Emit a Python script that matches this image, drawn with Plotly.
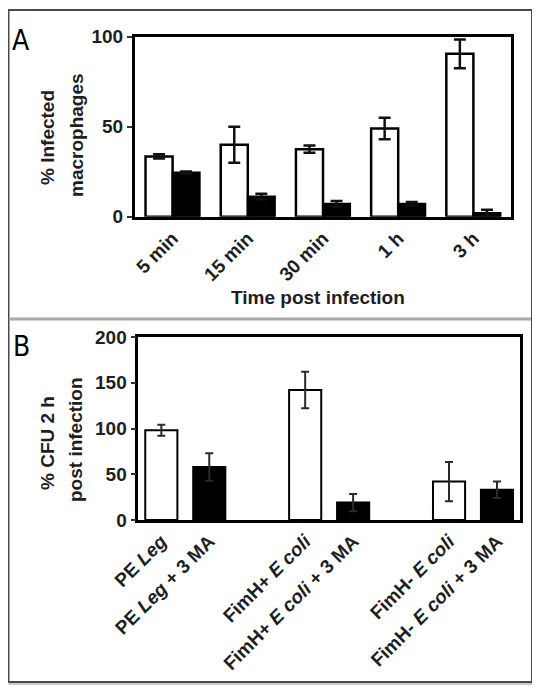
import plotly.graph_objects as go

# ---------- Panel A data ----------
time_points = ["5 min", "15 min", "30 min", "1 h", "3 h"]
infected_control = [33.5, 40, 37.5, 49, 90.5]
infected_control_err = [1.2, 10, 2, 6, 8]
infected_3ma = [24.5, 11.2, 7.2, 7.2, 2]
infected_3ma_err = [0.6, 1.5, 1.5, 1, 1.8]
a_yticks = [0, 50, 100]

# ---------- Panel B data ----------
b_labels = ["PE <i>Leg</i>", "PE <i>Leg</i> + 3 MA",
            "FimH+ <i>E coli</i>", "FimH+ <i>E coli</i> + 3 MA",
            "FimH- <i>E coli</i>", "FimH- <i>E coli</i> + 3 MA"]
cfu_values = [98, 58, 142, 19, 42, 33]
cfu_err = [6, 15, 20, 9.5, 21.5, 9]
b_yticks = [0, 50, 100, 150, 200]

# page body has an 8px margin: size the figure so it fits the 540x693 window
OFF = 8
FW, FH = 540 - 2 * OFF, 693 - 2 * OFF
def px(x):
    return (x - OFF) / FW
def py(y):
    return 1 - (y - OFF) / FH

TXT = "#1e1e1e"
FONT = "Liberation Sans, Arial, sans-serif"
NARROW = "Liberation Sans Narrow, Arial Narrow, DejaVu Sans Condensed, sans-serif"

fig = go.Figure()

# Panel A bars
fig.add_trace(go.Bar(
    x=time_points, y=infected_control, xaxis="x", yaxis="y",
    marker=dict(color="white", line=dict(color="black", width=2.5)),
    error_y=dict(type="data", array=infected_control_err, color="#111",
                 thickness=2.5, width=6),
    showlegend=False))
fig.add_trace(go.Bar(
    x=time_points, y=infected_3ma, xaxis="x", yaxis="y",
    marker=dict(color="black", line=dict(color="black", width=2)),
    error_y=dict(type="data", array=infected_3ma_err, color="#111",
                 thickness=2.5, width=6),
    showlegend=False))

# Panel B bars (pairs separated by one empty slot)
b_pos = [i + i // 2 for i in range(len(b_labels))]
b_colors = ["white" if i % 2 == 0 else "black" for i in range(len(b_labels))]
fig.add_trace(go.Bar(
    x=b_pos, y=cfu_values, xaxis="x2", yaxis="y2", width=0.67,
    marker=dict(color=b_colors, line=dict(color="black", width=2)),
    error_y=dict(type="data", array=cfu_err, color="#2a2a2a",
                 thickness=2, width=4),
    showlegend=False))

axis_common = dict(showline=True, mirror=True, linecolor="black",
                   showgrid=False, zeroline=False, automargin=False)
tickfont = dict(family=FONT, size=19, color=TXT, weight="bold")

fig.update_layout(
    template="none",
    width=FW, height=FH,
    margin=dict(l=0, r=0, t=0, b=0),
    paper_bgcolor="white", plot_bgcolor="white",
    barmode="group", bargap=0.28, bargroupgap=0,
    xaxis=dict(domain=[px(135), px(511)], anchor="y", type="category",
               categoryorder="array", categoryarray=time_points,
               tickangle=-45, tickfont=tickfont, ticks="", linewidth=3,
               **axis_common),
    yaxis=dict(domain=[py(216.7), py(36.7)], anchor="x", range=[0, 100],
               tickvals=a_yticks, ticks="outside", ticklen=5, tickwidth=1.5,
               tickcolor="#333", tickfont=tickfont, linewidth=3,
               **axis_common),
    xaxis2=dict(domain=[px(138.3), px(520)], anchor="y2",
                range=[-0.48, 7.48], tickvals=b_pos, ticktext=b_labels,
                tickangle=-45, tickfont=tickfont, ticks="", linewidth=2.5,
                **axis_common),
    yaxis2=dict(domain=[py(520), py(337)], anchor="x2", range=[0, 200],
                tickvals=b_yticks, ticks="outside", ticklen=5, tickwidth=1.5,
                tickcolor="#333", tickfont=tickfont, linewidth=2.5,
                **axis_common),
)

# Outer frame, shadow and separator
shapes = [
    dict(type="rect", xref="paper", yref="paper",
         x0=px(10), x1=px(534.5), y0=py(684.5), y1=py(12),
         line=dict(color="#c8c8c8", width=3), layer="below"),
    dict(type="rect", xref="paper", yref="paper",
         x0=px(8.5), x1=px(532), y0=py(682), y1=py(10),
         fillcolor="white", line=dict(color="#4a4a4a", width=2), layer="below"),
    dict(type="line", xref="paper", yref="paper",
         x0=px(9), x1=px(531), y0=py(319), y1=py(319),
         line=dict(color="#a8a8a8", width=3)),
]
fig.update_layout(shapes=shapes)

title_font = dict(family=FONT, size=19, color=TXT, weight="bold")
annotations = [
    dict(text="A", x=px(21), y=py(41), font=dict(family=NARROW, size=28, color="black")),
    dict(text="B", x=px(21), y=py(346), font=dict(family=NARROW, size=28, color="black")),
    dict(text="% Infected", x=px(47), y=py(138), textangle=-90, font=title_font),
    dict(text="macrophages", x=px(76), y=py(135), textangle=-90, font=title_font),
    dict(text="Time post infection", x=px(318), y=py(297), font=title_font),
    dict(text="% CFU 2 h", x=px(47), y=py(443), textangle=-90, font=title_font),
    dict(text="post infection", x=px(75), y=py(440), textangle=-90, font=title_font),
]
for a in annotations:
    a.update(xref="paper", yref="paper", showarrow=False,
             xanchor="center", yanchor="middle")
fig.update_layout(annotations=annotations)

fig.write_html("out.html")
